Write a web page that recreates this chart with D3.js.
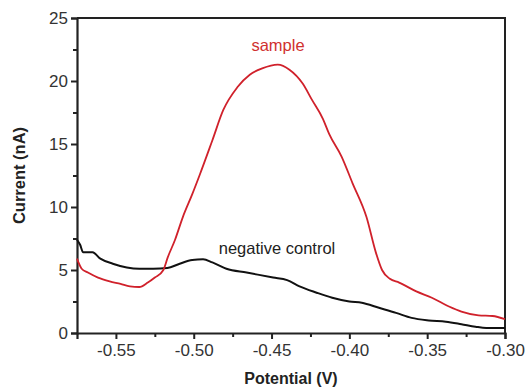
<!DOCTYPE html>
<html>
<head>
<meta charset="utf-8">
<script src="https://cdn.jsdelivr.net/npm/d3@7"></script>
<style>
  body { margin: 0; background: #fff; }
  text { font-family: "Liberation Sans", Arial, sans-serif; }
</style>
</head>
<body>
<div id="chart"></div>
<script>
// potential (V) and current (nA)
const sampleX = [-0.575, -0.572, -0.568, -0.5615, -0.554, -0.547, -0.541, -0.535, -0.5295, -0.525, -0.5195, -0.5167,
  -0.512, -0.507, -0.501, -0.496, -0.488, -0.481, -0.472, -0.464, -0.456, -0.446, -0.4385, -0.430, -0.424, -0.417,
  -0.413, -0.405, -0.398, -0.389, -0.383, -0.379, -0.374, -0.368, -0.357, -0.347, -0.336, -0.328, -0.317, -0.308, -0.3];
const sampleY = [5.9, 5.1, 4.8, 4.4, 4.1, 3.9, 3.7, 3.65, 4.0, 4.4, 5.0, 6.0,
  7.4, 9.2, 11.0, 12.6, 15.3, 17.7, 19.5, 20.5, 21.0, 21.3, 20.9, 19.8, 18.5, 17.0,
  15.8, 14.0, 11.9, 9.2, 6.4, 5.0, 4.3, 4.0, 3.3, 2.8, 2.1, 1.7, 1.4, 1.35, 1.1];

const controlX = [-0.575, -0.573, -0.571, -0.565, -0.560, -0.552, -0.543, -0.535, -0.526, -0.517, -0.509, -0.501,
  -0.494, -0.488, -0.479, -0.466, -0.449, -0.440, -0.432, -0.421, -0.411, -0.400, -0.392, -0.381, -0.370, -0.360,
  -0.349, -0.338, -0.328, -0.319, -0.312, -0.3];
const controlY = [7.4, 7.0, 6.4, 6.4, 5.9, 5.5, 5.2, 5.1, 5.1, 5.15, 5.5, 5.8,
  5.85, 5.6, 5.1, 4.8, 4.4, 4.2, 3.7, 3.2, 2.8, 2.5, 2.4, 2.0, 1.6, 1.2,
  1.0, 0.9, 0.7, 0.5, 0.4, 0.4];

const xTicks = [-0.55, -0.50, -0.45, -0.40, -0.35, -0.30];
const xMinor = [-0.525, -0.475, -0.425, -0.375, -0.325];
const yTicks = [0, 5, 10, 15, 20, 25];
const yMinor = [2.5, 7.5, 12.5, 17.5, 22.5];

const width = 527, height = 387;
const margin = { top: 18, right: 22, bottom: 54, left: 77 };

const svg = d3.select('#chart').append('svg')
  .attr('width', width)
  .attr('height', height);

const x = d3.scaleLinear().domain([-0.575, -0.30]).range([margin.left, width - margin.right]);
const y = d3.scaleLinear().domain([0, 25]).range([height - margin.bottom, margin.top]);

// frame (top + right)
svg.append('path')
  .attr('d', `M${x(-0.575)},${y(25)}H${x(-0.30)}V${y(0)}`)
  .attr('fill', 'none').attr('stroke', '#222').attr('stroke-width', 2);

// x axis
svg.append('g')
  .attr('transform', `translate(0,${y(0)})`)
  .call(d3.axisBottom(x).tickValues(xTicks).tickFormat(d => d.toFixed(2)).tickSize(6).tickPadding(5));
svg.append('g')
  .attr('transform', `translate(0,${y(0)})`)
  .call(d3.axisBottom(x).tickValues(xMinor).tickSize(4).tickFormat(''))
  .call(g => g.select('.domain').remove());

// y axis
svg.append('g')
  .attr('transform', `translate(${x(-0.575)},0)`)
  .call(d3.axisLeft(y).tickValues(yTicks).tickSize(6).tickPadding(3));
svg.append('g')
  .attr('transform', `translate(${x(-0.575)},0)`)
  .call(d3.axisLeft(y).tickValues(yMinor).tickSize(4).tickFormat(''))
  .call(g => g.select('.domain').remove());

svg.selectAll('.domain').attr('stroke', '#222').attr('stroke-width', 2.2);
svg.selectAll('.tick line').attr('stroke', '#222').attr('stroke-width', 2);
svg.selectAll('.tick text').attr('font-size', 17).attr('fill', '#333');

// curves
const line = d3.line().x(d => x(d[0])).y(d => y(d[1])).curve(d3.curveMonotoneX);

svg.append('path')
  .datum(controlX.map((v, i) => [v, controlY[i]]))
  .attr('d', line)
  .attr('fill', 'none').attr('stroke', '#111').attr('stroke-width', 2);

svg.append('path')
  .datum(sampleX.map((v, i) => [v, sampleY[i]]))
  .attr('d', line)
  .attr('fill', 'none').attr('stroke', '#d0212b').attr('stroke-width', 1.8);

// labels
svg.append('text')
  .attr('x', 278).attr('y', 51)
  .attr('text-anchor', 'middle').attr('font-size', 16.5).attr('fill', '#d0302f')
  .text('sample');

svg.append('text')
  .attr('x', 277).attr('y', 254)
  .attr('text-anchor', 'middle').attr('font-size', 16.5).attr('fill', '#222')
  .text('negative control');

svg.append('text')
  .attr('x', (margin.left + width - margin.right) / 2).attr('y', 384)
  .attr('text-anchor', 'middle').attr('font-size', 16).attr('font-weight', 'bold').attr('fill', '#222')
  .text('Potential (V)');

svg.append('text')
  .attr('transform', `translate(25,${(margin.top + height - margin.bottom) / 2}) rotate(-90)`)
  .attr('text-anchor', 'middle').attr('font-size', 16.5).attr('font-weight', 'bold').attr('fill', '#222')
  .text('Current (nA)');
</script>
</body>
</html>
